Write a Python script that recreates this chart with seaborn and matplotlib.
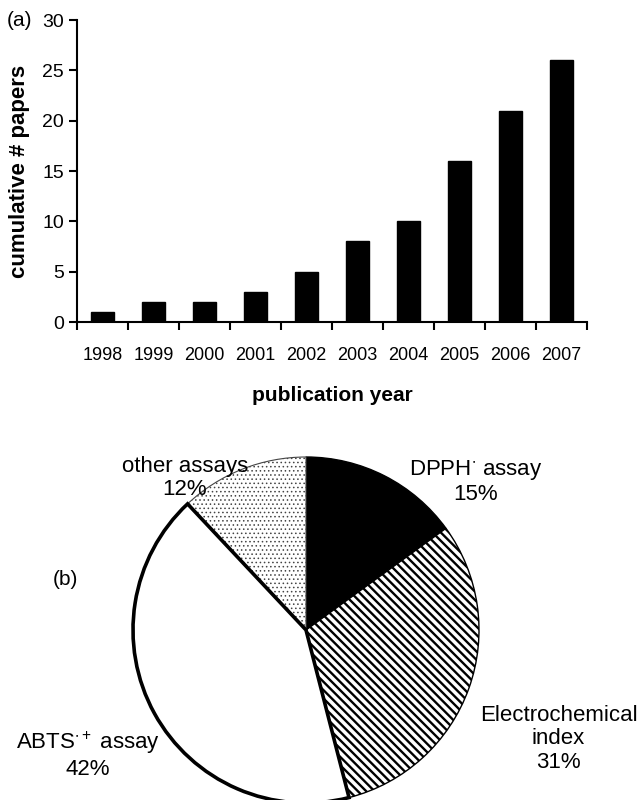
import matplotlib
matplotlib.use("Agg")
import matplotlib.pyplot as plt
import seaborn as sns
import pandas as pd
import numpy as np

# ---- data ----
years = ["1998", "1999", "2000", "2001", "2002", "2003", "2004", "2005", "2006", "2007"]
cumulative_papers = [1, 2, 2, 3, 5, 8, 10, 16, 21, 26]

pie_labels = ["DPPH$^{\\bullet}$ assay\n15%", "Electrochemical\nindex\n31%",
              "ABTS$^{\\bullet +}$ assay\n42%", "other assays\n12%"]
pie_shares = [15, 31, 42, 12]

sns.set_style("ticks")
plt.rcParams["font.family"] = ["Liberation Sans", "DejaVu Sans"]
plt.rcParams["mathtext.fontset"] = "custom"
plt.rcParams["mathtext.rm"] = "Liberation Sans"
plt.rcParams["mathtext.it"] = "Liberation Sans:italic"
plt.rcParams["mathtext.bf"] = "Liberation Sans:bold"
plt.rcParams["text.color"] = "black"
plt.rcParams["axes.labelcolor"] = "black"
plt.rcParams["xtick.color"] = "black"
plt.rcParams["ytick.color"] = "black"

fig = plt.figure(figsize=(6.44, 8.0), dpi=100)

# ---- (a) bar chart ----
W, H = 644, 800
axL, axR, axT, axB = 77, 587, 20, 322
ax = fig.add_axes([axL / W, 1 - axB / H, (axR - axL) / W, (axB - axT) / H])
df = pd.DataFrame({"year": years, "papers": cumulative_papers})
sns.barplot(data=df, x="year", y="papers", color="black", width=0.44,
            saturation=1, ax=ax, edgecolor="black")
ax.set_xlim(-0.5, len(years) - 0.5)
ax.set_ylim(0, 30)
ax.set_yticks(range(0, 31, 5))
ax.set_xticks(np.arange(len(years)))
ax.set_xticklabels(years)
ax.set_xticks(np.arange(-0.5, len(years)), minor=True)
ax.tick_params(axis="x", which="major", length=0, labelsize=13, pad=18, colors="black")
ax.tick_params(axis="x", which="minor", length=6, width=1.5, direction="out", color="black")
ax.tick_params(axis="y", length=6, width=1.5, direction="out", labelsize=14, colors="black")
for s in ["top", "right"]:
    ax.spines[s].set_visible(False)
for s in ["left", "bottom"]:
    ax.spines[s].set_linewidth(1.5)
    ax.spines[s].set_color("black")
ax.set_xlabel("publication year", fontsize=15, fontweight="bold", labelpad=16, color="black")
ax.set_ylabel("cumulative # papers", fontsize=16, fontweight="bold", labelpad=9, color="black")
fig.text(7 / W, 1 - 20 / H, "(a)", fontsize=15, va="center", ha="left", color="black")

# ---- (b) pie chart ----
cx, cy, R = 306, 630, 173
top, bot = 440, 800
pax = fig.add_axes([0, 1 - bot / H, 1, (bot - top) / H])
wedges, _ = pax.pie(pie_shares, startangle=90, counterclock=False,
                    colors=["black", "white", "white", "white"],
                    wedgeprops=dict(edgecolor="black", linewidth=1))
pax.set_xlim(-cx / R, (W - cx) / R)
pax.set_ylim(-(bot - cy) / R, (cy - top) / R)
pax.set_aspect("equal", adjustable="box")
pax.axis("off")

# Electrochemical: diagonal stripes
wedges[1].set_hatch("\\\\\\\\")
try:
    wedges[1].set_hatch_linewidth(1.7)
except Exception:
    pass
# ABTS: thick outline
wedges[2].set_linewidth(2.6)
wedges[2].set_zorder(3)
# other: dots
wedges[3].set_hatch("....")
wedges[3].set_edgecolor("#444444")
wedges[3].set_linewidth(0.8)
try:
    wedges[3].set_hatch_linewidth(0.6)
except Exception:
    pass

label_pos = [(0.98, 0.86), (1.46, -0.63), (-1.26, -0.72), (-0.70, 0.88)]
for lab, (x, y) in zip(pie_labels, label_pos):
    pax.text(x, y, lab, ha="center", va="center", fontsize=16, linespacing=1.15, color="black")
pax.text(-1.39, 0.29, "(b)", ha="center", va="center", fontsize=15, color="black")

fig.savefig("out.png", dpi=100)
